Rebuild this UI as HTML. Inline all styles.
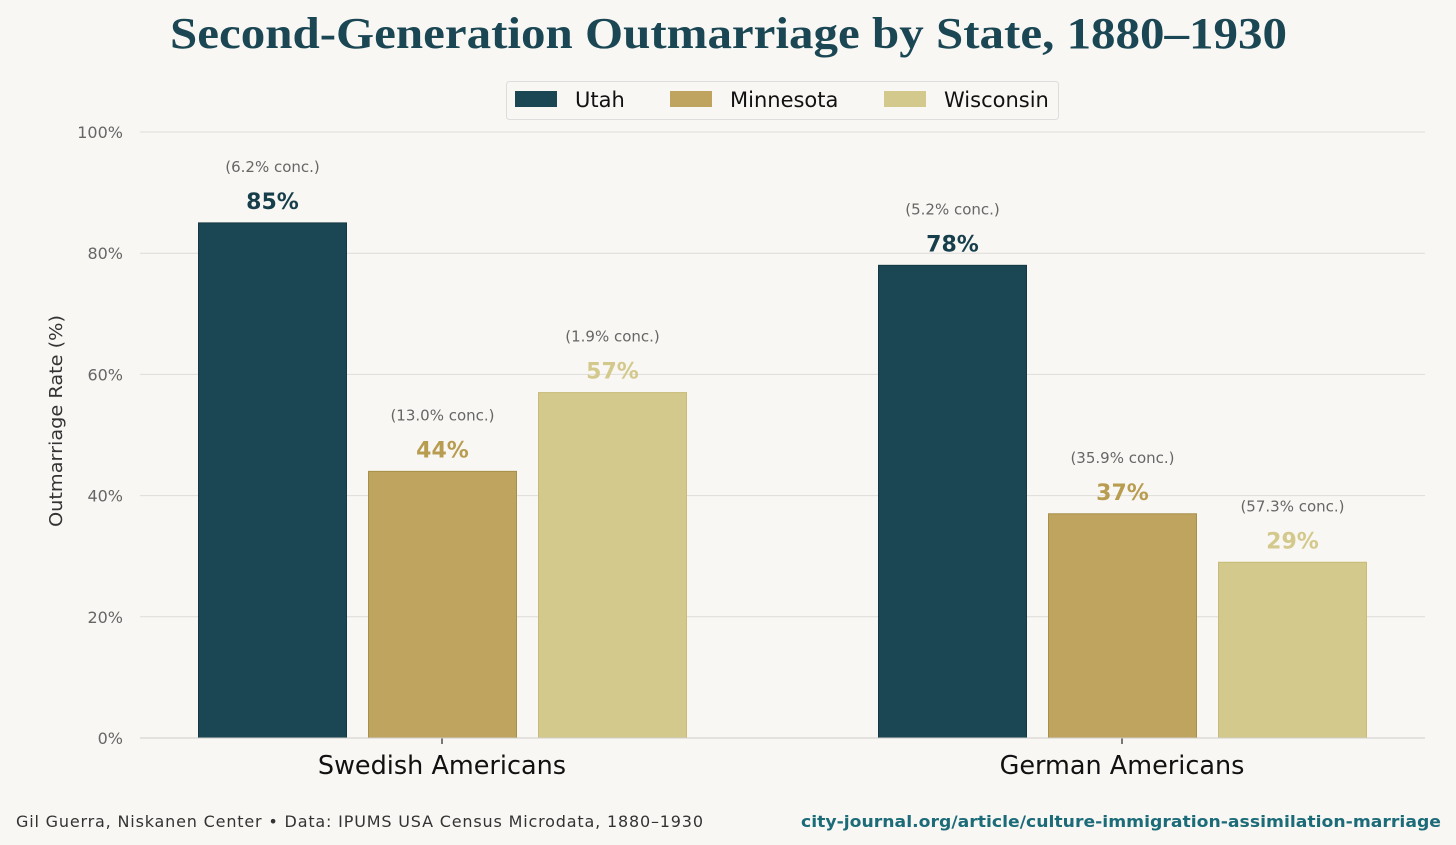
<!DOCTYPE html>
<html><head><meta charset="utf-8"><style>
html,body{margin:0;padding:0;background:#f9f7f4;}
svg{display:block;}
text{font-family:"DejaVu Sans","Liberation Sans",sans-serif;}
</style></head><body>
<svg id="chart" width="1456" height="845" xmlns="http://www.w3.org/2000/svg">
<rect width="1456" height="845" fill="#f9f7f4"/>
<text x="170" y="48" textLength="1117" lengthAdjust="spacingAndGlyphs" font-weight="bold" font-size="44" fill="#1a4753" style="font-family:'Liberation Serif','DejaVu Serif',serif">Second-Generation Outmarriage by State, 1880–1930</text>
<g id="grid"></g>
<g id="bars"></g>
<g>
<rect x="506.5" y="81.5" width="552" height="38" rx="3" fill="#f9f7f4" stroke="#dddddd"/>
<rect x="515" y="91" width="42" height="16" fill="#1b4754"/>
<text x="575" y="107" font-size="21" fill="#111">Utah</text>
<rect x="670" y="91" width="42" height="16" fill="#bea45f"/>
<text x="730" y="107" font-size="21" fill="#111">Minnesota</text>
<rect x="884" y="91" width="42" height="16" fill="#d4c98c"/>
<text x="944" y="107" font-size="21" fill="#111">Wisconsin</text>
</g>
<text transform="translate(62,421) rotate(-90)" text-anchor="middle" font-size="18" textLength="212" lengthAdjust="spacingAndGlyphs" fill="#333">Outmarriage Rate (%)</text>
<text x="16" y="827" font-size="16" fill="#333" textLength="687" lengthAdjust="spacing">Gil Guerra, Niskanen Center  •  Data: IPUMS USA Census Microdata, 1880–1930</text>
<text x="801" y="827" font-size="16" font-weight="bold" fill="#1c6b78" textLength="640" lengthAdjust="spacingAndGlyphs">city-journal.org/article/culture-immigration-assimilation-marriage</text>
</svg>
<script>
const categories = ["Swedish Americans", "German Americans"];
const seriesNames = ["Utah", "Minnesota", "Wisconsin"];
const utahValues = [85, 78];
const minnesotaValues = [44, 37];
const wisconsinValues = [57, 29];
const utahConc = ["6.2", "5.2"];
const minnesotaConc = ["13.0", "35.9"];
const wisconsinConc = ["1.9", "57.3"];
const yTicks = [0, 20, 40, 60, 80, 100];

const NS = "http://www.w3.org/2000/svg";
const x0 = 140, x1 = 1425, yBase = 738, yTop = 132;
function yScale(v){ return yBase - (v/100)*(yBase - yTop); }
function groupCenter(i){ return 442 + i*680; }
function mk(tag, attrs, parent){ const e=document.createElementNS(NS,tag); for(const k in attrs) e.setAttribute(k,attrs[k]); parent.appendChild(e); return e; }
const grid = document.getElementById('grid');
const bars = document.getElementById('bars');
yTicks.forEach(t=>{
  const y = yScale(t);
  const l = mk('line',{x1:x0,x2:x1,y1:y,y2:y,stroke:'#dedcd8','stroke-width':1},grid);
  
  
  const tx = mk('text',{x:123,y:y+6,'text-anchor':'end','font-size':16,fill:'#666'},grid);
  tx.textContent = t+'%';
  
  
});
const series = [utahValues, minnesotaValues, wisconsinValues];
const concs = [utahConc, minnesotaConc, wisconsinConc];
const fills = ['#1b4754','#bea45f','#d4c98c'];
const strokes = ['#143943','#a88f48','#c8bb76'];
const labelColors = ['#173f4b','#b89c50','#d4c98c'];
const bw = 148, step = 170;
categories.forEach((c,i)=>{
  const cx = groupCenter(i);
  series.forEach((vals,s)=>{
    const bx = cx + (s-1)*step - bw/2;
    const yt = yScale(vals[i]);
    const r = mk('rect',{x:bx+0.5,y:yt,width:bw,height:yBase-yt,fill:fills[s],stroke:strokes[s],'stroke-width':1},bars);
    
    
    const vl = mk('text',{x:bx+bw/2+0.5,y:yt-14,'text-anchor':'middle','font-size':22,'font-weight':'bold',fill:labelColors[s]},bars);
    vl.textContent = vals[i]+'%';
    
    
    const cl = mk('text',{x:bx+bw/2+0.5,y:yt-51,'text-anchor':'middle','font-size':15,fill:'#666'},bars);
    cl.textContent = '('+concs[s][i]+'% conc.)';
    
    
  });
  const tk = mk('line',{x1:cx,x2:cx,y1:yBase,y2:yBase+6,stroke:'#222','stroke-width':1.2},bars);
  
  
  const cl = mk('text',{x:cx,y:774,'text-anchor':'middle','font-size':25.5,fill:'#111'},bars);
  cl.textContent = c;
  
  
});
const ax = mk('line',{x1:x0,x2:x1,y1:yBase,y2:yBase,stroke:'#cfcdc9','stroke-width':1},bars);


</script>
</body></html>
